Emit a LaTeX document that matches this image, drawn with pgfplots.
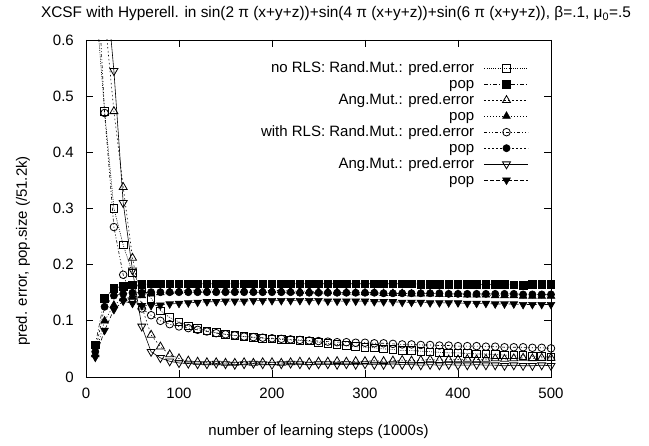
\documentclass[border=0pt]{standalone}
\usepackage{fontspec}
\setmainfont{Liberation Sans}
\usepackage{pgfplots}
\pgfplotsset{compat=1.18}

\pgfplotstableread{
x s1 s2 s3 s4 s5 s6 s7 s8
10 0.680 0.057 0.950 0.040 0.790 0.045 1.000 0.035
20 0.473 0.140 0.645 0.100 0.470 0.125 0.730 0.083
30 0.300 0.158 0.473 0.128 0.267 0.145 0.545 0.120
40 0.235 0.162 0.338 0.140 0.182 0.148 0.310 0.135
50 0.185 0.164 0.212 0.142 0.140 0.150 0.190 0.131
60 0.160 0.165 0.125 0.145 0.122 0.150 0.090 0.127
70 0.140 0.166 0.075 0.148 0.110 0.151 0.045 0.127
80 0.118 0.166 0.054 0.150 0.100 0.151 0.034 0.128
90 0.106 0.166 0.040 0.152 0.094 0.151 0.028 0.130
100 0.098 0.166 0.033 0.153 0.090 0.151 0.025 0.131
110 0.091 0.166 0.029 0.154 0.087 0.151 0.024 0.132
120 0.087 0.166 0.027 0.155 0.084 0.151 0.023 0.133
130 0.082 0.166 0.026 0.155 0.081 0.151 0.023 0.134
140 0.079 0.166 0.026 0.155 0.078 0.151 0.024 0.134
150 0.076 0.166 0.025 0.155 0.076 0.151 0.023 0.135
160 0.074 0.166 0.025 0.155 0.074 0.151 0.022 0.135
170 0.072 0.166 0.026 0.155 0.072 0.151 0.023 0.135
180 0.070 0.166 0.025 0.154 0.071 0.151 0.024 0.136
190 0.069 0.166 0.026 0.154 0.070 0.151 0.023 0.136
200 0.068 0.166 0.026 0.154 0.069 0.151 0.022 0.136
210 0.067 0.166 0.025 0.154 0.068 0.151 0.023 0.136
220 0.066 0.166 0.026 0.153 0.067 0.151 0.024 0.136
230 0.065 0.166 0.027 0.153 0.066 0.150 0.023 0.136
240 0.064 0.166 0.026 0.153 0.065 0.150 0.022 0.136
250 0.062 0.166 0.027 0.152 0.064 0.150 0.023 0.136
260 0.060 0.166 0.027 0.152 0.063 0.150 0.023 0.135
270 0.058 0.166 0.028 0.151 0.062 0.150 0.022 0.135
280 0.056 0.166 0.027 0.151 0.062 0.150 0.023 0.135
290 0.054 0.166 0.028 0.150 0.061 0.150 0.022 0.135
300 0.053 0.166 0.028 0.150 0.061 0.150 0.023 0.135
310 0.052 0.166 0.029 0.150 0.060 0.150 0.022 0.134
320 0.050 0.166 0.028 0.149 0.060 0.149 0.022 0.134
330 0.049 0.166 0.029 0.149 0.059 0.149 0.023 0.134
340 0.047 0.166 0.030 0.149 0.058 0.149 0.022 0.133
350 0.047 0.166 0.029 0.148 0.058 0.149 0.022 0.133
360 0.046 0.165 0.030 0.148 0.057 0.149 0.021 0.133
370 0.045 0.165 0.031 0.148 0.057 0.149 0.022 0.132
380 0.044 0.165 0.030 0.147 0.056 0.149 0.021 0.132
390 0.043 0.165 0.031 0.147 0.056 0.148 0.022 0.132
400 0.043 0.165 0.031 0.147 0.055 0.148 0.021 0.132
410 0.042 0.165 0.032 0.146 0.055 0.148 0.021 0.131
420 0.041 0.165 0.031 0.146 0.055 0.148 0.022 0.131
430 0.041 0.165 0.032 0.146 0.054 0.148 0.021 0.131
440 0.040 0.165 0.033 0.145 0.054 0.148 0.021 0.130
450 0.039 0.165 0.032 0.145 0.053 0.148 0.020 0.130
460 0.039 0.164 0.033 0.145 0.053 0.148 0.021 0.130
470 0.038 0.163 0.034 0.144 0.053 0.147 0.020 0.129
480 0.037 0.165 0.033 0.144 0.052 0.147 0.020 0.129
490 0.037 0.165 0.034 0.144 0.052 0.147 0.021 0.129
500 0.036 0.165 0.034 0.144 0.051 0.147 0.020 0.129
}\data

\begin{document}
\begin{tikzpicture}
\path[use as bounding box] (-86pt,-69pt) rectangle (563pt,377pt);
\begin{axis}[
    at={(0pt,0pt)}, anchor=south west,
    scale only axis,
    width=465pt, height=337pt,
    xmin=0, xmax=500, ymin=0, ymax=0.6,
    xtick={0,100,200,300,400,500},
    ytick={0,0.1,0.2,0.3,0.4,0.5,0.6},
    yticklabels={0,0.1,0.2,0.3,0.4,0.5,0.6},
    tick align=inside,
    major tick length=7pt,
    axis line style={line width=0.9pt},
    every tick/.style={black, line width=0.8pt},
    /pgf/number format/assume math mode=true,
    font=\fontsize{15}{18}\selectfont,
    xticklabel style={inner sep=0pt, yshift=-11pt},
    yticklabel style={inner sep=0pt, xshift=-12pt},
    title={XCSF with Hyperell. in sin(2 π (x+y+z))+sin(4 π (x+y+z))+sin(6 π (x+y+z)), β=.1, μ\textsubscript{0}=.5},
    title style={at={(axis description cs:0.5,1)}, anchor=center, yshift=20pt, xshift=17.5pt, inner sep=0pt, font=\fontsize{15.4}{18}\selectfont},
    xlabel={number of learning steps (1000s)},
    xlabel style={at={(axis description cs:0.5,-0.163)}, anchor=center, inner sep=0pt},
    ylabel={pred. error, pop.size (/51.2k)},
    ylabel style={at={(axis description cs:-0.1355,0.374)}, anchor=center, rotate=0, inner sep=0pt},
    legend plot pos=right,
    legend cell align=right,
    legend style={draw=none, fill=none, inner sep=0pt, column sep=10pt, row sep=0pt,
        at={(axis description cs:0.9527,0.9407)}, anchor=north east,
        nodes={inner sep=0pt, text height=12pt, text depth=4pt}},
    legend image code/.code={\draw[mark repeat=2,mark phase=2] plot coordinates {(0pt,0pt) (22pt,0pt) (44pt,0pt)};},
    every axis plot/.append style={black, line width=0.6pt},
]
\addplot[dash pattern=on 1pt off 1.2pt, mark=square, mark size=3.8pt, mark options={solid, line width=0.8pt}] table[x=x,y=s1] {\data};
\addplot[dash pattern=on 4pt off 2pt on 1pt off 2pt, mark=square*, mark size=3.8pt, mark options={solid, fill=black}] table[x=x,y=s2] {\data};
\addplot[dash pattern=on 1.5pt off 2.5pt, mark=triangle, mark size=4.6pt, mark options={solid, line width=0.8pt}] table[x=x,y=s3] {\data};
\addplot[dash pattern=on 1pt off 2pt, mark=triangle*, mark size=4.4pt, mark options={solid, fill=black}] table[x=x,y=s4] {\data};
\addplot[dash pattern=on 3pt off 2pt on 1pt off 2pt on 1pt off 2pt, mark=o, mark size=3.8pt, mark options={solid, line width=0.8pt}] table[x=x,y=s5] {\data};
\addplot[dash pattern=on 2pt off 2pt, mark=*, mark size=3.6pt, mark options={solid, fill=black}] table[x=x,y=s6] {\data};
\addplot[solid, mark=triangle, mark size=4.6pt, mark options={solid, rotate=180, line width=0.8pt}] table[x=x,y=s7] {\data};
\addplot[dash pattern=on 4pt off 2pt, mark=triangle*, mark size=4.4pt, mark options={solid, rotate=180, fill=black}] table[x=x,y=s8] {\data};
\legend{no RLS: Rand.Mut.: pred.error, pop, Ang.Mut.: pred.error, pop, with RLS: Rand.Mut.: pred.error, pop, Ang.Mut.: pred.error, pop}
\end{axis}
\end{tikzpicture}
\end{document}
